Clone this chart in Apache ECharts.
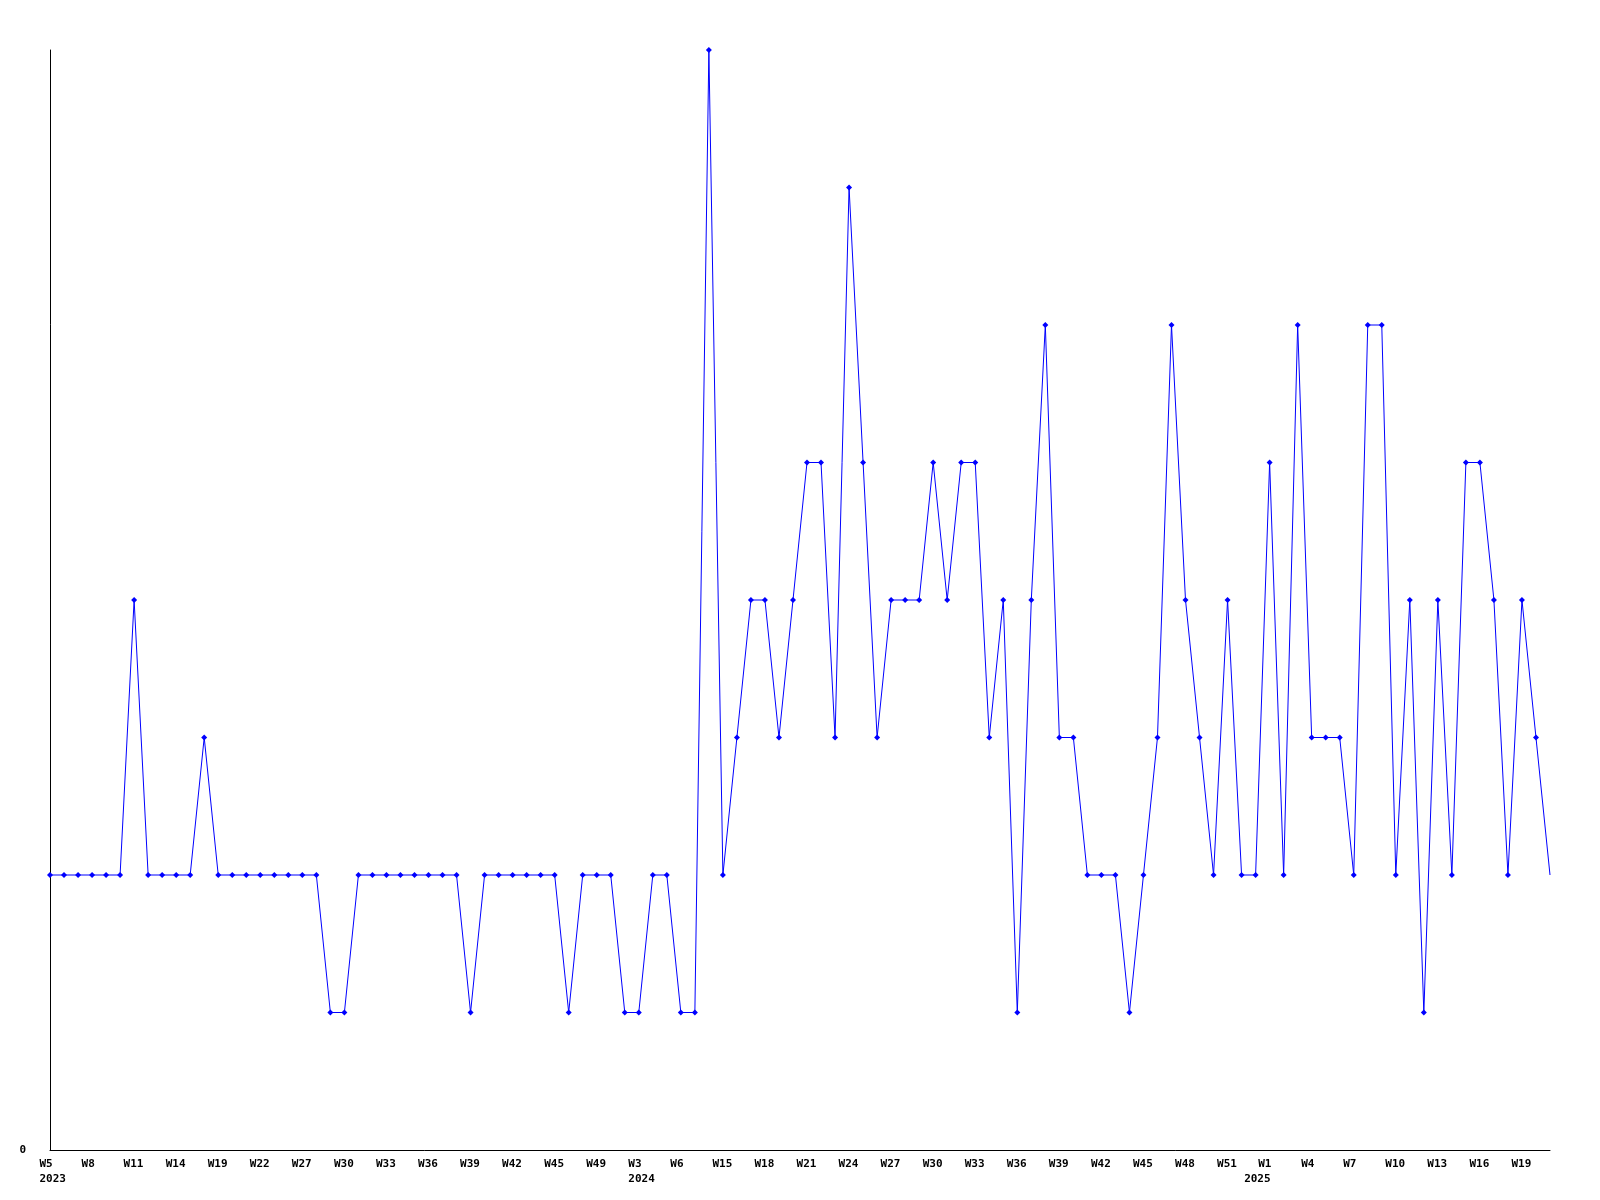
<!DOCTYPE html>
<html>
<head>
<meta charset="utf-8">
<script src="https://cdn.jsdelivr.net/npm/echarts@6/dist/echarts.min.js"></script>
<style>html,body{margin:0;padding:0;background:#fff;}#c{width:1600px;height:1200px;}</style>
</head>
<body>
<div id="c"></div>
<script>
var weeks = [
 "W5\n2023","W6","W7","W8","W9","W10","W11","W12","W13","W14",
 "W16","W17","W19","W20","W21","W22","W23","W25","W27","W28",
 "W29","W30","W31","W32","W33","W34","W35","W36","W37","W38",
 "W39","W40","W41","W42","W43","W44","W45","W46","W48","W49",
 "W50","W52","W3\n2024","W4","W5","W6","W8","W11","W15","W16",
 "W17","W18","W19","W20","W21","W22","W23","W24","W25","W26",
 "W27","W28","W29","W30","W31","W32","W33","W34","W35","W36",
 "W37","W38","W39","W40","W41","W42","W43","W44","W45","W46",
 "W47","W48","W49","W50","W51","W52","W53","W1\n2025","W2","W3",
 "W4","W5","W6","W7","W8","W9","W10","W11","W12","W13",
 "W14","W15","W16","W17","W18","W19","W20","W21"
];
var counts = [
 2,2,2,2,2,2,4,2,2,2,
 2,3,2,2,2,2,2,2,2,2,
 1,1,2,2,2,2,2,2,2,2,
 1,2,2,2,2,2,2,1,2,2,
 2,1,1,2,2,1,1,8,2,3,
 4,4,3,4,5,5,3,7,5,3,
 4,4,4,5,4,5,5,3,4,1,
 4,6,3,3,2,2,2,1,2,3,
 6,4,3,2,4,2,2,5,2,6,
 3,3,3,2,6,6,2,4,1,4,
 2,5,5,4,2,4,3,2
];
var yTickLabels = ["0"];
var shiftedYears = ["2025"];

var chart = echarts.init(document.getElementById('c'), null, {renderer: 'canvas'});
var font = '"DejaVu Sans Mono", "Liberation Mono", monospace';
var base = {fontFamily: font, fontWeight: 'bold', fontSize: 11, color: '#000', lineHeight: 15};
function st(extra) { var o = {}; for (var k in base) o[k] = base[k]; for (var k2 in extra) o[k2] = extra[k2]; return o; }
var seriesData = counts.map(function (v, i) {
  if (i === counts.length - 1) return {value: v, symbol: 'none'};
  return v;
});
chart.setOption({
  animation: false,
  backgroundColor: '#ffffff',
  grid: {left: 50, right: 50, top: 50, bottom: 50, containLabel: false},
  xAxis: {
    type: 'category',
    data: weeks,
    boundaryGap: false,
    axisLine: {lineStyle: {color: '#000', width: 1}},
    axisTick: {show: false},
    splitLine: {show: false},
    axisLabel: {
      interval: 2,
      margin: 7,
      align: 'center',
      verticalAlign: 'top',
      formatter: function (v) {
        var parts = v.split('\n');
        if (parts.length > 1 && shiftedYears.indexOf(parts[1]) >= 0) {
          return '{sp| }{a2|' + parts[0] + '}\n{b|' + parts[1] + '}';
        }
        return parts.map(function (s) { return '{a|' + s + '}'; }).join('\n');
      },
      rich: {
        a: st({width: 21, align: 'left'}),
        sp: st({width: 14, align: 'left'}),
        a2: st({width: 37, align: 'left'}),
        b: st({width: 51, align: 'left'})
      }
    }
  },
  yAxis: {
    type: 'value',
    min: 0,
    max: 8,
    interval: 8,
    axisLine: {show: true, lineStyle: {color: '#000', width: 1}},
    axisTick: {show: false},
    splitLine: {show: false},
    axisLabel: {
      margin: 24,
      fontFamily: font,
      fontWeight: 'bold',
      fontSize: 11,
      color: '#000',
      formatter: function (v) { return v === 0 ? yTickLabels[0] : ''; }
    }
  },
  series: [{
    type: 'line',
    data: seriesData,
    symbol: 'diamond',
    symbolSize: 6,
    showAllSymbol: true,
    lineStyle: {color: '#0000ff', width: 1},
    itemStyle: {color: '#0000ff'},
    emphasis: {disabled: true}
  }]
});
</script>
</body>
</html>
